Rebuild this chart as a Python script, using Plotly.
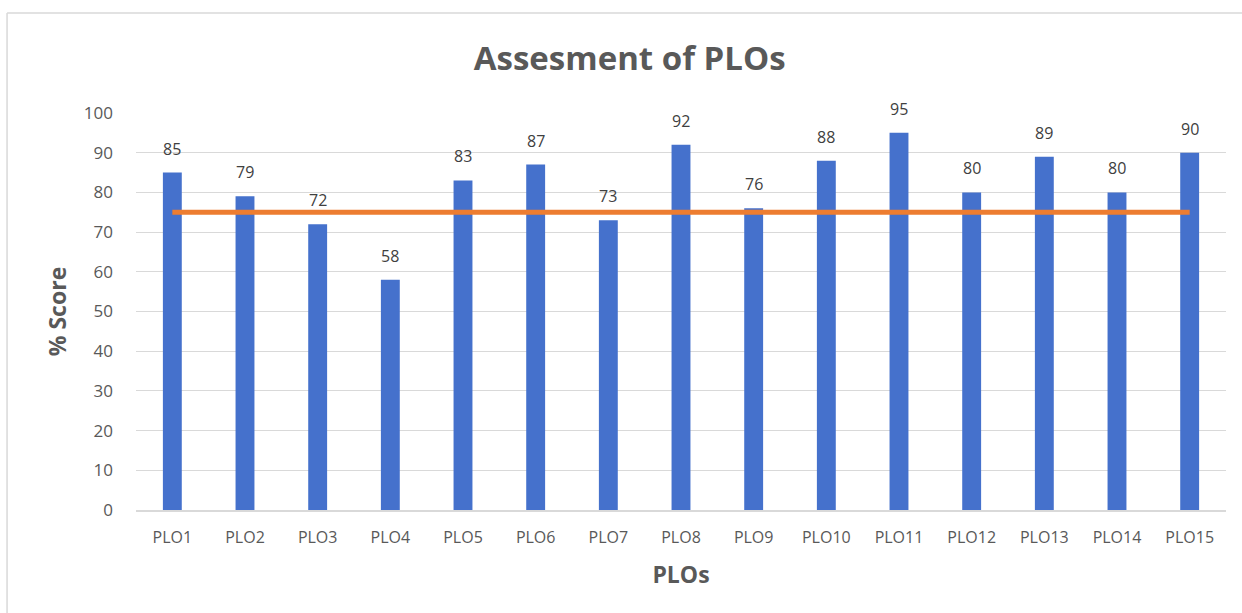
import plotly.graph_objects as go

categories = [f"PLO{i}" for i in range(1, 16)]
scores = [85, 79, 72, 58, 83, 87, 73, 92, 76, 88, 95, 80, 89, 80, 90]
target = [75] * 15
title_text = "Assesment of PLOs"
y_title = "% Score"
x_title = "PLOs"
grey = "#595959"
font_family = "Open Sans, Liberation Sans, sans-serif"

fig = go.Figure()
fig.add_trace(go.Bar(
    x=categories, y=scores,
    marker=dict(color="#4571CC", line=dict(width=0)),
    showlegend=False,
))
fig.add_trace(go.Scatter(
    x=categories, y=target, mode="lines",
    line=dict(color="#ED7D31", width=5), showlegend=False,
))

annotations = [
    dict(x=c, y=v, xref="x", yref="y", text=str(v), showarrow=False,
         yshift=24, yanchor="middle",
         font=dict(size=16, color="#404040", family=font_family))
    for c, v in zip(categories, scores)
]

fig.update_layout(
    width=1242, height=613,
    margin=dict(l=136, r=16, t=113, b=103, autoexpand=False),
    paper_bgcolor="white", plot_bgcolor="white",
    bargap=0.74,
    title=dict(text=f"<b>{title_text}</b>", x=0.507, xanchor="center",
               y=0.905, yanchor="middle",
               font=dict(size=33, color=grey, family=font_family)),
    font=dict(family=font_family, color=grey),
    annotations=annotations,
    shapes=[
        dict(type="line", xref="paper", yref="paper", x0=-0.1183, x1=1.03, y0=1.252, y1=1.252,
             line=dict(color="#D9D9D9", width=1.5)),
        dict(type="line", xref="paper", yref="paper", x0=-0.1183, x1=-0.1183, y0=1.252, y1=-0.3,
             line=dict(color="#D9D9D9", width=1.5)),
    ],
)
fig.update_xaxes(
    title=dict(text=f"<b>{x_title}</b>", font=dict(size=23, color=grey), standoff=20),
    tickfont=dict(size=16, color=grey), showgrid=False, automargin=False,
    showline=True, linecolor="#D9D9D9", linewidth=1.5, ticks="",
    ticklabelstandoff=12,
)
fig.update_yaxes(
    title=dict(text=f"<b>{y_title}</b>", font=dict(size=23, color=grey), standoff=10),
    range=[0, 100], dtick=10, tickfont=dict(size=17, color=grey), automargin=False,
    showgrid=True, gridcolor="#D9D9D9", gridwidth=1.2, zeroline=False,
    ticks="", ticklabelstandoff=22,
)
fig.write_html("out.html", config={"displayModeBar": False},
               post_script="document.body.style.margin='0px';")
